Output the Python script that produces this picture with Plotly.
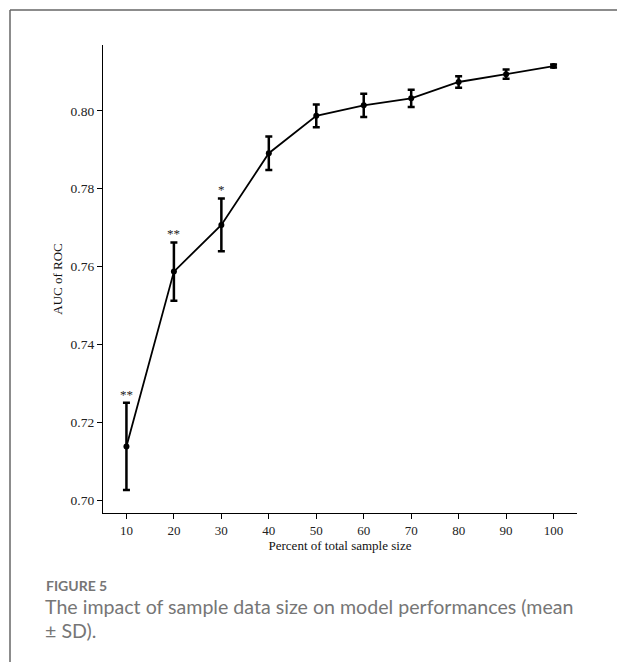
import plotly.graph_objects as go

# ---- data ----
percent = [10, 20, 30, 40, 50, 60, 70, 80, 90, 100]
auc_mean = [0.7138, 0.7587, 0.7707, 0.7891, 0.7987, 0.8014, 0.8032, 0.8074, 0.8094, 0.8115]
auc_sd = [0.0112, 0.0075, 0.0068, 0.0043, 0.0029, 0.0030, 0.0022, 0.0015, 0.0012, 0.0004]
signif = ["**", "**", "*", "", "", "", "", "", "", ""]
x_ticks = [10, 20, 30, 40, 50, 60, 70, 80, 90, 100]
y_ticks = [0.70, 0.72, 0.74, 0.76, 0.78, 0.80]

W, H = 617, 662
L, R, T, B = 103, 40, 45, 149
pw, ph = W - L - R, H - T - B


def px(xp):
    return (xp - L) / pw


def py(yp):
    return 1 - (yp - T) / ph


SERIF = "Liberation Serif, Times New Roman, serif"

fig = go.Figure()
fig.add_trace(go.Scatter(
    x=percent, y=auc_mean,
    mode="lines+markers",
    line=dict(color="black", width=1.8),
    marker=dict(color="black", size=6),
    error_y=dict(type="data", array=auc_sd, visible=True,
                 color="black", thickness=2.5, width=3.5),
    showlegend=False,
    hoverinfo="skip",
))

annotations = []
for xv, m, s, lab in zip(percent, auc_mean, auc_sd, signif):
    if lab:
        annotations.append(dict(
            x=xv, y=m + s, xref="x", yref="y", text=lab, showarrow=False,
            yanchor="bottom", xanchor="center", yshift=-1,
            font=dict(family=SERIF, size=13, color="#222"),
        ))

CAP = "Lato, Open Sans, sans-serif"
CAPCOL = "#767676"
annotations += [
    dict(x=px(44), y=py(575), xref="paper", yref="paper", xanchor="left", yanchor="top",
         text="<b>FIGURE 5</b>", showarrow=False,
         font=dict(family=CAP, size=14, color=CAPCOL)),
    dict(x=px(43), y=py(593), xref="paper", yref="paper", xanchor="left", yanchor="top",
         text="The impact of sample data size on model performances (mean", showarrow=False,
         font=dict(family=CAP, size=19.6, color=CAPCOL)),
    dict(x=px(43), y=py(617), xref="paper", yref="paper", xanchor="left", yanchor="top",
         text="± SD).", showarrow=False,
         font=dict(family=CAP, size=19.6, color=CAPCOL)),
]

shapes = [
    dict(type="line", xref="paper", yref="paper", x0=px(10), x1=px(W + 5), y0=py(10), y1=py(10),
         line=dict(color="#666", width=1.5)),
    dict(type="line", xref="paper", yref="paper", x0=px(10), x1=px(10), y0=py(10), y1=py(H + 5),
         line=dict(color="#666", width=1.5)),
]

fig.update_layout(
    width=W, height=H,
    margin=dict(l=L, r=R, t=T, b=B, autoexpand=False),
    paper_bgcolor="white", plot_bgcolor="white",
    annotations=annotations, shapes=shapes,
    xaxis=dict(
        range=[5.06, 104.94], tickvals=x_ticks, ticktext=[str(v) for v in x_ticks],
        showgrid=False, zeroline=False, showline=True, linecolor="black", linewidth=1.2,
        ticks="outside", ticklen=5, tickwidth=1, tickcolor="black",
        tickfont=dict(family=SERIF, size=13, color="#222"),
        title=dict(text="Percent of total sample size", standoff=4,
                   font=dict(family=SERIF, size=13, color="#111")),
    ),
    yaxis=dict(
        range=[0.6967, 0.8169], tickvals=y_ticks, ticktext=[f"{v:.2f}" for v in y_ticks],
        showgrid=False, zeroline=False, showline=True, linecolor="black", linewidth=1.2,
        ticks="outside", ticklen=5, tickwidth=1, tickcolor="black",
        tickfont=dict(family=SERIF, size=13.5, color="#222"),
        title=dict(text="AUC of ROC", standoff=5,
                   font=dict(family=SERIF, size=13, color="#111")),
    ),
)

fig.write_html("out.html")
